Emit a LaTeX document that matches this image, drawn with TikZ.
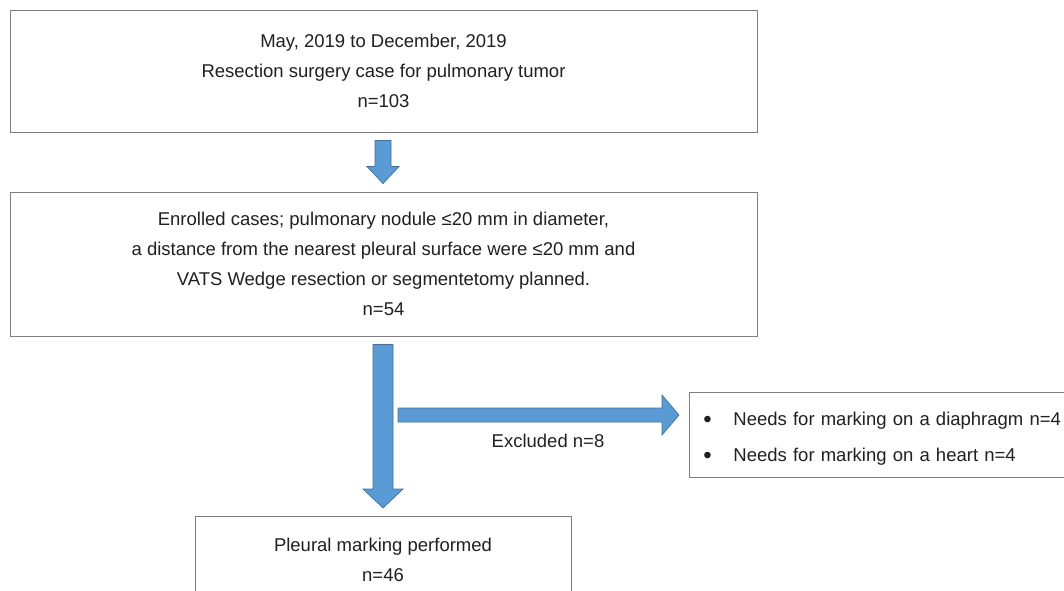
\documentclass[tikz,border=0pt]{standalone}
\usepackage{fontspec}
\setmainfont{Liberation Sans}
\usetikzlibrary{calc}
\definecolor{arrowfill}{HTML}{5B9BD5}
\definecolor{arrowline}{HTML}{41719C}
\definecolor{boxline}{HTML}{808080}
\definecolor{txt}{HTML}{231F20}
\newcommand\bigbul{\makebox[30pt][l]{\raisebox{-2pt}{\fontsize{24}{30}\selectfont •}}}
\begin{document}
\begin{tikzpicture}[x=1pt,y=1pt,
  box/.style={draw=boxline, line width=0.9pt, fill=white, text=txt, align=center,
    font=\fontsize{18.5}{30}\selectfont, inner sep=0pt},
  blockarrow/.style={fill=arrowfill, draw=arrowline, line width=0.7pt, line join=miter},
  lbl/.style={text=txt, font=\fontsize{18.5}{30}\selectfont, inner sep=0pt}]
\useasboundingbox (0,0) rectangle (1064,-590);
% boxes
\node[box, minimum width=747, minimum height=122] (b1) at (383.5,-71)
  {May, 2019 to December, 2019\\Resection surgery case for pulmonary tumor\\n=103};
\node[box, minimum width=747, minimum height=144] (b2) at (383.5,-264)
  {Enrolled cases; pulmonary nodule ≤20 mm in diameter,\\a distance from the nearest pleural surface were ≤20 mm and\\VATS Wedge resection or segmentetomy planned.\\n=54};
\node[box, minimum width=376, minimum height=86, anchor=north] (b3) at (383,-516)
  {Pleural marking performed\\n=46};
\node[box, anchor=north west, minimum height=85, text width=390, align=left, inner xsep=14pt] (b4) at (689,-392)
  {\rule{0pt}{20pt}\bigbul Needs for marking on a diaphragm n=4\\[6pt]\bigbul Needs for marking on a heart n=4};
% arrows
\coordinate (a1s) at ($(b1.south)+(-0.5,-8)$);
\coordinate (a1e) at ($(b2.north)+(-0.5,8)$);
\draw[blockarrow] ($(a1s)+(-8,0)$) -- ($(a1s)+(8,0)$) -- ($(a1e)+(8,17)$) -- ($(a1e)+(16,17)$)
  -- (a1e) -- ($(a1e)+(-16,17)$) -- ($(a1e)+(-8,17)$) -- cycle;
\coordinate (a2s) at ($(b2.south)+(-0.5,-8)$);
\coordinate (a2e) at ($(b3.north)+(0,8)$);
\draw[blockarrow] ($(a2s)+(-10,0)$) -- ($(a2s)+(10,0)$) -- ($(a2e)+(10,19)$) -- ($(a2e)+(20,19)$)
  -- (a2e) -- ($(a2e)+(-20,19)$) -- ($(a2e)+(-10,19)$) -- cycle;
\coordinate (a3s) at (398,-415);
\coordinate (a3e) at ($(b4.west|-a3s)+(-10,0)$);
\draw[blockarrow] ($(a3s)+(0,7)$) -- ($(a3e)+(-17,7)$) -- ($(a3e)+(-17,20)$) -- (a3e)
  -- ($(a3e)+(-17,-20)$) -- ($(a3e)+(-17,-7)$) -- ($(a3s)+(0,-7)$) -- cycle;
\node[lbl] (ex) at (548,-441) {Excluded n=8};
\end{tikzpicture}
\end{document}
